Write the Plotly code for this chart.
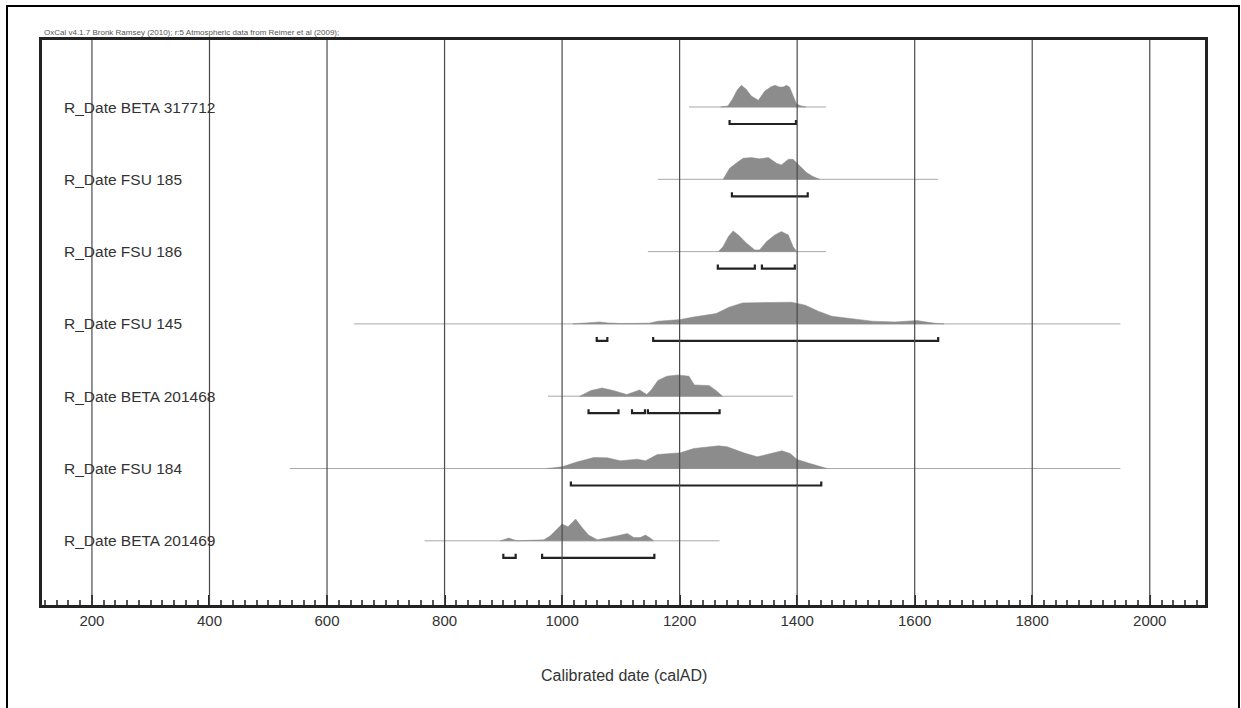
import plotly.graph_objects as go

# ---------------- data ----------------
sample_labels = ["R_Date BETA 317712", "R_Date FSU 185", "R_Date FSU 186", "R_Date FSU 145",
                 "R_Date BETA 201468", "R_Date FSU 184", "R_Date BETA 201469"]

# probability curves: calendar year / relative probability (1 unit = 1 px of height)
beta317712_year = [1270, 1282, 1290, 1298, 1305, 1313, 1322, 1334, 1345, 1355, 1362, 1370, 1376, 1382, 1387, 1393, 1399, 1407, 1415]
beta317712_prob = [0, 1, 8, 17, 21.7, 18, 11, 6.7, 16, 20, 21.7, 20, 20, 21.7, 20, 12, 3, 1, 0]

fsu185_year = [1274, 1285, 1300, 1308, 1322, 1336, 1351, 1365, 1373, 1385, 1393, 1405, 1416, 1427, 1438]
fsu185_prob = [0, 11, 17.7, 21, 21.7, 20.5, 21.7, 16, 14.3, 20, 20, 12.7, 6.7, 2.7, 0]

fsu186_year = [1266, 1274, 1283, 1291, 1300, 1314, 1328, 1336, 1348, 1362, 1373, 1385, 1393, 1399]
fsu186_prob = [0, 5, 15, 20.7, 16.7, 8.3, 1.7, 1.7, 10, 16.7, 20, 16.7, 5, 0]

fsu145_year = [1018, 1050, 1064, 1078, 1100, 1148, 1163, 1201, 1224, 1262, 1284, 1307, 1353, 1391, 1414, 1436, 1459, 1490, 1528, 1566, 1604, 1634, 1650]
fsu145_prob = [0, 1, 2, 1, 0.3, 0.7, 2.7, 4.3, 7, 10.3, 16.7, 21, 21, 21.7, 18.7, 12.7, 7.7, 5.3, 2.7, 2, 3.3, 0.7, 0]

beta201468_year = [1030, 1049, 1068, 1087, 1110, 1121, 1132, 1144, 1151, 1163, 1178, 1197, 1216, 1225, 1250, 1262, 1273]
beta201468_prob = [0, 5.7, 8.3, 5.7, 1.7, 4, 6.3, 1.7, 5.7, 15.7, 20, 21.3, 20, 11.3, 10.7, 5.7, 0]

fsu184_year = [974, 1000, 1026, 1054, 1077, 1099, 1128, 1142, 1162, 1201, 1224, 1266, 1281, 1309, 1332, 1354, 1374, 1388, 1400, 1422, 1451]
fsu184_prob = [0, 1.7, 6.7, 11, 10.7, 7.7, 9.3, 7.7, 14, 15.7, 20, 22.7, 21.7, 15.7, 11.7, 15, 17.7, 15, 9, 5, 0]

beta201469_year = [895, 909, 923, 969, 980, 992, 1000, 1010, 1023, 1034, 1045, 1060, 1077, 1094, 1111, 1122, 1133, 1142, 1150, 1156]
beta201469_prob = [0, 2.7, 0, 1, 5, 11.7, 16.7, 14, 21.7, 13.3, 5.7, 1, 2.7, 5, 7.3, 3.3, 3.3, 5.7, 2.7, 0]

curve_years = [beta317712_year, fsu185_year, fsu186_year, fsu145_year, beta201468_year, fsu184_year, beta201469_year]
curve_probs = [beta317712_prob, fsu185_prob, fsu186_prob, fsu145_prob, beta201468_prob, fsu184_prob, beta201469_prob]

# extent of the thin likelihood line for each sample (cal AD)
line_start = [1216, 1163, 1146, 646, 976, 537, 766]
line_end = [1449, 1640, 1449, 1950, 1393, 1950, 1268]

# highest posterior density ranges (cal AD)
hpd_ranges = [
    [(1285, 1398)],
    [(1289, 1418)],
    [(1265, 1328), (1340, 1396)],
    [(1059, 1077), (1155, 1640)],
    [(1045, 1096), (1119, 1141), (1146, 1268)],
    [(1015, 1441)],
    [(900, 921), (966, 1157)],
]

tick_values = [200, 400, 600, 800, 1000, 1200, 1400, 1600, 1800, 2000]
x_title = "Calibrated date (calAD)"
header_text = "OxCal v4.1.7 Bronk Ramsey (2010); r:5 Atmospheric data from Reimer et al (2009);"

# ---------------- styling / layout ----------------
W, H = 1241, 708
ML, MR, MT, MB = 42, 36, 40, 103
plot_w = W - ML - MR
plot_h = H - MT - MB
row0, row_gap = 67, 72.3
bracket_off, bracket_tick = 17, 4
FONT = "Liberation Sans, Arial, sans-serif"
TXT = "#333333"

fig = go.Figure()

for i, label in enumerate(sample_labels):
    base = row0 + i * row_gap
    # thin likelihood line
    fig.add_trace(go.Scatter(x=[line_start[i], line_end[i]], y=[base, base], mode="lines",
                             line=dict(color="#a8a8a8", width=1), hoverinfo="skip", showlegend=False))
    # filled distribution
    yrs = curve_years[i]
    pr = curve_probs[i]
    xs = list(yrs) + list(reversed(yrs))
    ys = [base - p for p in pr] + [base] * len(yrs)
    fig.add_trace(go.Scatter(x=xs, y=ys, mode="lines", fill="toself", fillcolor="#8c8c8c",
                             line=dict(color="#8c8c8c", width=0.5), hoverinfo="skip", showlegend=False))
    # HPD brackets
    yb = base + bracket_off
    for a, b in hpd_ranges[i]:
        fig.add_trace(go.Scatter(x=[a, a, b, b], y=[yb - bracket_tick, yb, yb, yb - bracket_tick],
                                 mode="lines", line=dict(color="#222222", width=2.2),
                                 hoverinfo="skip", showlegend=False))
    # sample label
    fig.add_annotation(x=(62 - ML) / plot_w, xref="paper", y=base, yref="y", text=label,
                       showarrow=False, xanchor="left", yanchor="middle",
                       font=dict(family=FONT, size=15.5, color=TXT))

# vertical grid lines drawn above the curves
for v in tick_values:
    fig.add_shape(type="line", x0=v, x1=v, xref="x", y0=0, y1=1, yref="paper",
                  line=dict(color="#4a4a4a", width=1.2), layer="above")

# outer image border
fig.add_shape(type="rect", xref="paper", yref="paper",
              x0=(7 - ML) / plot_w, x1=(1239 - ML) / plot_w,
              y0=-0.4, y1=(H - MB - 6) / plot_h,
              line=dict(color="black", width=2), layer="above")

fig.add_annotation(x=0, xref="paper", y=1.0, yref="paper", text=header_text, showarrow=False,
                   xanchor="left", yanchor="bottom", yshift=1,
                   font=dict(family=FONT, size=8, color="#555555"))

fig.add_annotation(x=0.5, xref="paper", y=-(675 - (H - MB)) / plot_h, yref="paper", text=x_title,
                   showarrow=False, xanchor="center", yanchor="middle",
                   font=dict(family=FONT, size=16, color=TXT))

fig.update_layout(
    width=W, height=H,
    margin=dict(l=ML, r=MR, t=MT, b=MB, pad=0),
    paper_bgcolor="white", plot_bgcolor="white",
    showlegend=False,
    xaxis=dict(range=[115, 2094], tickvals=tick_values, ticks="inside", ticklen=10, tickwidth=1.5,
               tickcolor="#222222", showgrid=False, zeroline=False,
               showline=True, linewidth=3, linecolor="#222222", mirror=True,
               tickfont=dict(family=FONT, size=15, color=TXT),
               minor=dict(dtick=20, tick0=0, ticks="inside", ticklen=5, tickcolor="#555555", showgrid=False)),
    yaxis=dict(range=[plot_h, 0], showticklabels=False, ticks="", showgrid=False, zeroline=False,
               showline=True, linewidth=3, linecolor="#222222", mirror=True),
)

fig.write_html("out.html", config={"displayModeBar": False},
               post_script="document.body.style.margin='0';document.body.style.overflow='hidden';")
